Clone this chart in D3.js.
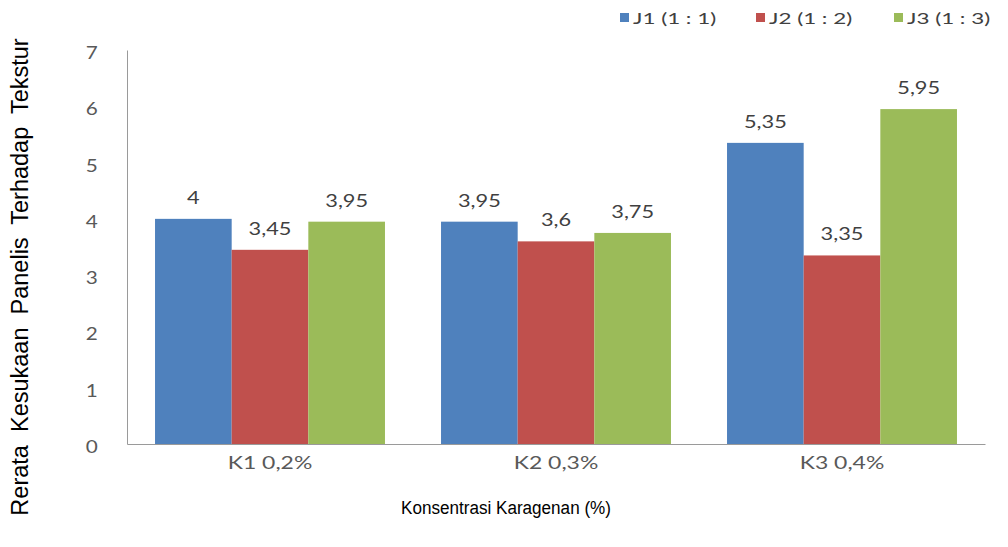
<!DOCTYPE html>
<html>
<head>
<meta charset="utf-8">
<script src="https://cdn.jsdelivr.net/npm/d3@7"></script>
<style>
  body { margin: 0; background: #fff; }
  svg { display: block; }
</style>
</head>
<body>
<svg id="chart"></svg>
<script>
// data
var categories = ['K1 0,2%', 'K2 0,3%', 'K3 0,4%'];
var seriesNames = ['J1 (1 : 1)', 'J2 (1 : 2)', 'J3 (1 : 3)'];
var j1 = [4, 3.95, 5.35];
var j2 = [3.45, 3.6, 3.35];
var j3 = [3.95, 3.75, 5.95];
var yTicks = [0, 1, 2, 3, 4, 5, 6, 7];

var seriesValues = [j1, j2, j3];
var colors = ['#4F81BD', '#C0504D', '#9BBB59'];

var width = 1008, height = 547;
var plotLeft = 127, plotRight = 985, plotTop = 50, plotBottom = 444;
// the chart text in the picture is drawn wide
var wide = function(s) { return 'scale(' + s + ',1)'; };

var svg = d3.select('#chart')
    .attr('width', width)
    .attr('height', height);

var x0 = d3.scaleBand()
    .domain(categories)
    .range([plotLeft, plotRight])
    .paddingInner(0.196)
    .paddingOuter(0.098);

var x1 = d3.scaleBand()
    .domain(d3.range(seriesNames.length))
    .range([0, x0.bandwidth()]);

var y = d3.scaleLinear()
    .domain([0, 7])
    .range([plotBottom, plotTop]);

var fmt = function(v) { return String(v).replace('.', ','); };

// bars
var groups = svg.selectAll('g.group')
    .data(categories)
    .enter()
    .append('g')
    .attr('class', 'group')
    .attr('transform', function(d) { return 'translate(' + x0(d) + ',0)'; });

var cells = function(d, i) {
    return seriesValues.map(function(s, k) { return { k: k, v: s[i] }; });
};

groups.selectAll('rect')
    .data(cells)
    .enter()
    .append('rect')
    .attr('x', function(d) { return x1(d.k); })
    .attr('y', function(d) { return y(d.v); })
    .attr('width', x1.bandwidth())
    .attr('height', function(d) { return plotBottom - y(d.v); })
    .attr('fill', function(d) { return colors[d.k]; });

// value labels
groups.selectAll('text')
    .data(cells)
    .enter()
    .append('text')
    .attr('transform', function(d) {
        return 'translate(' + (x1(d.k) + x1.bandwidth() / 2) + ',' + (y(d.v) - 15) + ') ' + wide(1.28);
    })
    .attr('text-anchor', 'middle')
    .attr('font-family', 'Lato, sans-serif')
    .attr('font-size', 17)
    .attr('fill', '#404040')
    .text(function(d) { return fmt(d.v); });

// y axis
var yAxis = svg.append('g')
    .attr('transform', 'translate(' + plotLeft + ',0)')
    .call(d3.axisLeft(y).tickValues(yTicks).tickFormat(d3.format('d')).tickSize(0));
yAxis.select('.domain').attr('stroke', '#9a9a9a');
yAxis.selectAll('.tick text')
    .attr('x', -24)
    .attr('dy', '0.5em')
    .attr('transform', wide(1.22))
    .attr('font-family', 'Lato, sans-serif')
    .attr('font-size', 17)
    .attr('fill', '#595959');

// x axis
var xAxis = svg.append('g')
    .attr('transform', 'translate(0,' + plotBottom + ')')
    .call(d3.axisBottom(x0).tickSize(0).tickPadding(13));
xAxis.select('.domain').attr('stroke', '#9a9a9a');
xAxis.selectAll('.tick text')
    .attr('transform', wide(1.35))
    .attr('font-family', 'Lato, sans-serif')
    .attr('font-size', 17)
    .attr('fill', '#595959');

// axis titles
svg.append('text')
    .attr('transform', 'translate(506,514) scale(0.9,1)')
    .attr('text-anchor', 'middle')
    .attr('font-family', "'Liberation Sans', Arial, sans-serif")
    .attr('font-size', 19)
    .attr('fill', '#000')
    .text('Konsentrasi Karagenan (%)');

svg.append('text')
    .attr('transform', 'translate(28,277) rotate(-90)')
    .attr('text-anchor', 'middle')
    .attr('font-family', "'Liberation Sans', Arial, sans-serif")
    .attr('font-size', 23.5)
    .attr('fill', '#000')
    .style('white-space', 'pre')
    .text('Rerata  Kesukaan  Panelis  Terhadap  Tekstur');

// legend
var legendX = [620, 756, 894];
var legend = svg.selectAll('g.legend')
    .data(seriesNames)
    .enter()
    .append('g')
    .attr('class', 'legend')
    .attr('transform', function(d, i) { return 'translate(' + legendX[i] + ',13)'; });

legend.append('rect')
    .attr('width', 9)
    .attr('height', 9)
    .attr('fill', function(d, i) { return colors[i]; });

legend.append('text')
    .attr('transform', 'translate(13,11) ' + wide(1.4))
    .attr('font-family', 'Lato, sans-serif')
    .attr('font-size', 16)
    .attr('fill', '#404040')
    .text(function(d) { return d; });
</script>
</body>
</html>
